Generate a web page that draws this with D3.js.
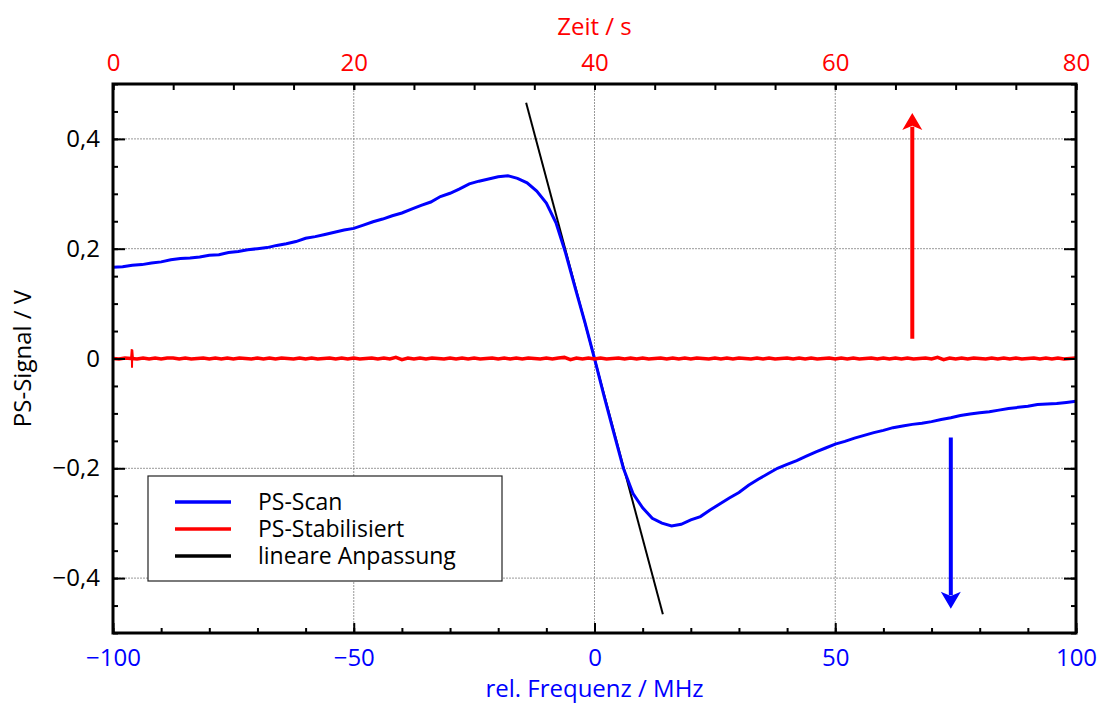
<!DOCTYPE html>
<html>
<head>
<meta charset="utf-8">
<script src="https://cdn.jsdelivr.net/npm/d3@7"></script>
<style>
    body { margin: 0; background: #fff; }
    text { font-family: "Open Sans", sans-serif; }
</style>
</head>
<body>
<script>
// frequency grid for the scan, -100 .. 100 MHz in steps of 2
const scanFreq = d3.range(-100, 101, 2);
// PS-Scan signal in V
const scanSignal = [
    0.166, 0.167, 0.170, 0.171, 0.174, 0.176, 0.180, 0.182, 0.183, 0.185,
    0.188, 0.189, 0.193, 0.195, 0.198, 0.200, 0.202, 0.206, 0.209, 0.213,
    0.219, 0.222, 0.226, 0.230, 0.234, 0.237, 0.243, 0.249, 0.254, 0.260,
    0.265, 0.272, 0.279, 0.285, 0.295, 0.301, 0.309, 0.318, 0.323, 0.327,
    0.331, 0.333, 0.328, 0.320, 0.305, 0.283, 0.247, 0.192, 0.128, 0.066,
    0.000, -0.069, -0.135, -0.200, -0.246, -0.272, -0.291, -0.300, -0.305, -0.302,
    -0.294, -0.288, -0.276, -0.265, -0.254, -0.244, -0.231, -0.220, -0.210, -0.200,
    -0.193, -0.186, -0.178, -0.170, -0.163, -0.156, -0.151, -0.145, -0.140, -0.135,
    -0.131, -0.126, -0.123, -0.120, -0.118, -0.115, -0.111, -0.108, -0.104, -0.101,
    -0.099, -0.097, -0.094, -0.091, -0.089, -0.087, -0.084, -0.083, -0.082, -0.080,
    -0.078
];

// time grid for the stabilised signal, 0 .. 80 s in steps of 0.5
const stabTime = d3.range(0, 80.01, 0.5);
// PS-Stabilisiert signal in mV
const stabSignal = [
    0, -1, 1, 0, -1, 1, -1, 1, -1, 1,
    1, -1, 1, -1, 0, 1, -1, 1, -1, 1,
    -1, 1, 0, -1, 1, -1, 1, -1, 1, 0,
    -1, 1, -1, 1, -1, 0, 1, -1, 1, -1,
    1, -1, 0, 1, -1, 1, -1, 2, -2, 1,
    -1, 1, -1, 1, 0, -1, 1, -1, 1, -1,
    1, -1, 0, 1, -1, 1, -1, 1, -1, 1,
    0, -1, 1, -1, 1, 2, -2, 1, -1, 1,
    -1, 1, -1, 0, 1, -1, 1, -1, 1, -1,
    0, 1, -1, 1, -1, 1, -1, 1, 0, -1,
    1, -1, 1, -1, 1, 0, -1, 1, -1, 1,
    -1, 0, 1, -1, 1, -1, 1, -1, 0, 1,
    -1, 1, -1, 1, -1, 0, 1, -1, 1, -1,
    1, -1, 1, -1, 0, 1, -1, 2, -2, 1,
    -1, 1, -1, 1, 0, -1, 1, -1, 1, -1,
    1, -1, 0, 1, -1, 1, -1, 1, -1, 0,
    1
];
// short spike near the start of the stabilised trace (s, mV)
const spikeTime = [1.50, 1.56, 1.58, 1.60, 1.66];
const spikeSignal = [0, 17, -17, 16, 0];

// linear fit end points
const fitFreq = [-14.2, 14.2];
const fitSignal = [0.466, -0.466];

// arrows: [freq, from, to]
const redArrow = [66, 0.036, 0.447];
const blueArrow = [74, -0.144, -0.456];

const freqLabels = [-100, -50, 0, 50, 100];
const timeLabels = [0, 20, 40, 60, 80];
const signalLabels = [-0.4, -0.2, 0, 0.2, 0.4];

const legendNames = ["PS-Scan", "PS-Stabilisiert", "lineare Anpassung"];
const legendColors = ["#0000ff", "#ff0000", "#000000"];

window.onload = function () {
    const width = 1099, height = 704;
    const left = 113, right = 1076, top = 84, bottom = 633;

    const svg = d3.select("body").append("svg")
        .attr("width", width)
        .attr("height", height);

    const x = d3.scaleLinear().domain([-100, 100]).range([left, right]);
    const t = d3.scaleLinear().domain([0, 80]).range([left, right]);
    const y = d3.scaleLinear().domain([-0.5, 0.5]).range([bottom, top]);

    const fmtSignal = d => d === 0 ? "0" : d3.format(".1f")(d).replace(".", ",");

    //grid
    const grid = svg.append("g")
        .attr("stroke", "#999")
        .attr("stroke-width", 1)
        .attr("stroke-dasharray", "2,1");
    grid.selectAll(".gx")
        .data([-50, 0, 50])
        .enter().append("line")
        .attr("x1", d => x(d)).attr("x2", d => x(d))
        .attr("y1", top).attr("y2", bottom);
    grid.selectAll(".gy")
        .data(signalLabels)
        .enter().append("line")
        .attr("x1", left).attr("x2", right)
        .attr("y1", d => y(d)).attr("y2", d => y(d));

    //data lines
    const fitLine = d3.line()
        .x((d, i) => x(fitFreq[i]))
        .y(d => y(d));
    svg.append("path")
        .attr("d", fitLine(fitSignal))
        .attr("fill", "none")
        .attr("stroke", "#000")
        .attr("stroke-width", 2);

    const scanLine = d3.line()
        .x((d, i) => x(scanFreq[i]))
        .y(d => y(d));
    svg.append("path")
        .attr("d", scanLine(scanSignal))
        .attr("fill", "none")
        .attr("stroke", "#0000ff")
        .attr("stroke-width", 3);

    const stabLine = d3.line()
        .x((d, i) => t(stabTime[i]))
        .y(d => y(d / 1000));
    svg.append("path")
        .attr("d", stabLine(stabSignal))
        .attr("fill", "none")
        .attr("stroke", "#ff0000")
        .attr("stroke-width", 3.5);

    const spikeLine = d3.line()
        .x((d, i) => t(spikeTime[i]))
        .y(d => y(d / 1000));
    svg.append("path")
        .attr("d", spikeLine(spikeSignal))
        .attr("fill", "none")
        .attr("stroke", "#ff0000")
        .attr("stroke-width", 2);

    //arrows
    function arrow(a, color) {
        const x0 = x(a[0]), y0 = y(a[1]), y1 = y(a[2]);
        const dir = y1 < y0 ? 1 : -1;
        const head = 17;
        svg.append("line")
            .attr("x1", x0).attr("x2", x0)
            .attr("y1", y0).attr("y2", y1 + dir * head * 0.8)
            .attr("stroke", color)
            .attr("stroke-width", 4);
        svg.append("path")
            .attr("d", `M${x0},${y1} L${x0 - 10},${y1 + dir * head} L${x0},${y1 + dir * head * 0.75} L${x0 + 10},${y1 + dir * head} Z`)
            .attr("fill", color);
    }
    arrow(redArrow, "#ff0000");
    arrow(blueArrow, "#0000ff");

    //axes, ticks pointing inwards
    function styleAxis(g, color) {
        g.select(".domain").remove();
        g.selectAll("line").attr("stroke", "#000").attr("stroke-width", 2);
        g.selectAll("text")
            .attr("fill", color)
            .style("font-size", "24px")
            .style("font-family", "'Open Sans', sans-serif");
    }

    svg.append("g")
        .attr("transform", `translate(0,${bottom})`)
        .call(d3.axisBottom(x).tickValues(d3.range(-100, 101, 10)).tickSize(-5).tickFormat(""))
        .call(g => styleAxis(g, "#00f"));
    svg.append("g")
        .attr("transform", `translate(0,${bottom})`)
        .call(d3.axisBottom(x).tickValues(freqLabels).tickSize(-10).tickPadding(16)
            .tickFormat(d3.format("d")))
        .call(g => styleAxis(g, "#0000ff"));

    svg.append("g")
        .attr("transform", `translate(0,${top})`)
        .call(d3.axisTop(t).tickValues(d3.range(0, 81, 5)).tickSize(-6).tickFormat(""))
        .call(g => styleAxis(g, "#f00"));
    svg.append("g")
        .attr("transform", `translate(0,${top})`)
        .call(d3.axisTop(t).tickValues(timeLabels).tickSize(-6).tickPadding(13)
            .tickFormat(d3.format("d")))
        .call(g => styleAxis(g, "#ff0000"));

    svg.append("g")
        .attr("transform", `translate(${left},0)`)
        .call(d3.axisLeft(y).tickValues(d3.range(-0.5, 0.501, 0.05)).tickSize(-5).tickFormat(""))
        .call(g => styleAxis(g, "#000"));
    svg.append("g")
        .attr("transform", `translate(${left},0)`)
        .call(d3.axisLeft(y).tickValues(signalLabels).tickSize(-12).tickPadding(13)
            .tickFormat(fmtSignal))
        .call(g => styleAxis(g, "#000"));

    svg.append("g")
        .attr("transform", `translate(${right},0)`)
        .call(d3.axisRight(y).tickValues(d3.range(-0.5, 0.501, 0.05)).tickSize(-5).tickFormat(""))
        .call(g => styleAxis(g, "#000"));
    svg.append("g")
        .attr("transform", `translate(${right},0)`)
        .call(d3.axisRight(y).tickValues(signalLabels).tickSize(-12).tickFormat(""))
        .call(g => styleAxis(g, "#000"));

    //frame
    svg.append("rect")
        .attr("x", left).attr("y", top)
        .attr("width", right - left).attr("height", bottom - top)
        .attr("fill", "none")
        .attr("stroke", "#000")
        .attr("stroke-width", 3);

    //axis titles
    svg.append("text")
        .attr("x", (left + right) / 2).attr("y", 697)
        .attr("text-anchor", "middle")
        .attr("fill", "#0000ff")
        .style("font-size", "24px")
        .text("rel. Frequenz / MHz");
    svg.append("text")
        .attr("x", (left + right) / 2).attr("y", 35)
        .attr("text-anchor", "middle")
        .attr("fill", "#ff0000")
        .style("font-size", "24px")
        .text("Zeit / s");
    svg.append("text")
        .attr("transform", `translate(31,${(top + bottom) / 2}) rotate(-90)`)
        .attr("text-anchor", "middle")
        .attr("fill", "#000")
        .style("font-size", "24px")
        .text("PS-Signal / V");

    //legend
    const legend = svg.append("g").attr("transform", "translate(148,476)");
    legend.append("rect")
        .attr("width", 354).attr("height", 105)
        .attr("fill", "#fff")
        .attr("stroke", "#222")
        .attr("stroke-width", 1.2);
    const rows = legend.selectAll(".row")
        .data(legendNames)
        .enter().append("g")
        .attr("transform", (d, i) => `translate(0,${26 + i * 27})`);
    rows.append("line")
        .attr("x1", 27).attr("x2", 83)
        .attr("stroke", (d, i) => legendColors[i])
        .attr("stroke-width", 3.5);
    rows.append("text")
        .attr("x", 110).attr("dy", "0.35em")
        .style("font-size", "23px")
        .text(d => d);
}
</script>
</body>
</html>
